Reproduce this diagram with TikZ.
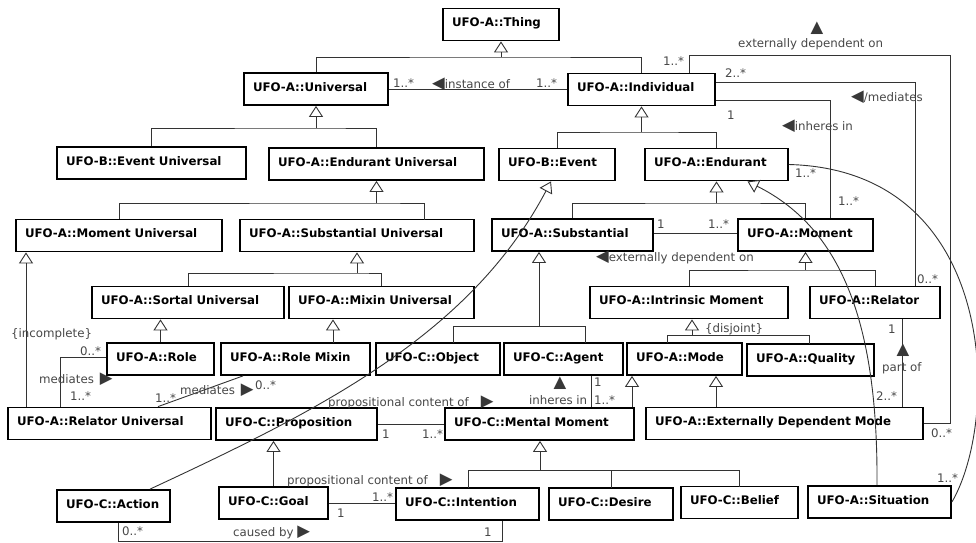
\documentclass[tikz,border=0pt]{standalone}
\usepackage{fontspec}
\setmainfont{DejaVu Sans}
\usepackage{tikz}
\usepackage{xcolor}
\usetikzlibrary{arrows.meta}
\exhyphenpenalty=10000
\newcommand{\umlsize}{\fontsize{11.8}{14}\selectfont}
\newcommand{\tri}[1]{{\fontsize{16.5}{14}\selectfont\color{black!78}#1}}

\begin{document}
\begin{tikzpicture}[x=1pt, y=-1pt,
  cls/.style={draw=black, line width=1.8pt, fill=white, font=\umlsize\bfseries, align=left, inner xsep=9pt, inner ysep=0pt, minimum height=32pt, text height=9pt, text depth=5pt},
  conn/.style={draw=black!80, line width=0.9pt},
  gen/.style={conn, -{Triangle[fill=white, length=11pt, width=14pt]}},
  lbl/.style={text=black!72, font=\umlsize, anchor=base west, inner sep=0pt}]
\useasboundingbox (0,0) rectangle (976,542);
\node[cls, text width=98pt] (thing) at (501,24.5) {UFO-A::Thing};
\node[cls, text width=126pt] (universal) at (316,89) {UFO-A::Universal};
\node[cls, text width=129pt] (individual) at (641.5,89.5) {UFO-A::Individual};
\node[cls, text width=171pt] (eventU) at (151.5,163) {UFO-B::Event Universal};
\node[cls, text width=197pt] (endurantU) at (376.5,164) {UFO-A::Endurant Universal};
\node[cls, text width=98pt] (event) at (557,164.5) {UFO-B::Event};
\node[cls, text width=125pt] (endurant) at (716.5,164.5) {UFO-A::Endurant};
\node[cls, text width=188pt] (momentU) at (119,235.5) {UFO-A::Moment Universal};
\node[cls, text width=216pt] (substU) at (357,235.5) {UFO-A::Substantial Universal};
\node[cls, text width=143pt] (substantial) at (572.5,235) {UFO-A::Substantial};
\node[cls, text width=117pt] (moment) at (805.5,235) {UFO-A::Moment};
\node[cls, text width=174pt] (sortalU) at (188,302.5) {UFO-A::Sortal Universal};
\node[cls, text width=167pt] (mixinU) at (381.5,302.5) {UFO-A::Mixin Universal};
\node[cls, text width=180pt] (intrinsic) at (689,302.5) {UFO-A::Intrinsic Moment};
\node[cls, text width=112pt] (relator) at (875,302.5) {UFO-A::Relator};
\node[cls, text width=89pt] (role) at (160.5,359) {UFO-A::Role};
\node[cls, text width=131pt] (roleMixin) at (295.5,359) {UFO-A::Role Mixin};
\node[cls, text width=106pt] (object) at (438,359) {UFO-C::Object};
\node[cls, text width=101pt] (agent) at (563.5,359) {UFO-C::Agent};
\node[cls, text width=97pt] (mode) at (684.5,359) {UFO-A::Mode};
\node[cls, text width=109pt] (quality) at (810.5,360) {UFO-A::Quality};
\node[cls, text width=185pt] (relatorU) at (109.5,423.5) {UFO-A::Relator Universal};
\node[cls, text width=143pt] (proposition) at (296.5,424) {UFO-C::Proposition};
\node[cls, text width=171pt] (mental) at (539.5,424) {UFO-C::Mental Moment};
\node[cls, text width=259pt] (edm) at (784.5,423.5) {UFO-A::Externally Dependent Mode};
\node[cls, text width=95pt] (action) at (113.5,506) {UFO-C::Action};
\node[cls, text width=91pt] (goal) at (273.5,503) {UFO-C::Goal};
\node[cls, text width=125pt] (intention) at (467.5,504) {UFO-C::Intention};
\node[cls, text width=106pt] (desire) at (611,504) {UFO-C::Desire};
\node[cls, text width=99pt] (belief) at (739.5,502.5) {UFO-C::Belief};
\node[cls, text width=125pt] (situation) at (879.5,502) {UFO-A::Situation};
\coordinate (j-thing) at (501,57);
\coordinate (j-univ) at (316,128);
\coordinate (j-indiv) at (641.5,132);
\coordinate (j-endU) at (376.5,203);
\coordinate (d-substU) at (424,220);
\coordinate (j-end) at (716.5,203);
\coordinate (j-substU) at (357,273);
\coordinate (j-mom) at (805.5,270);
\coordinate (d-rmix) at (333,343);
\coordinate (j-subst) at (539,326);
\coordinate (d-obj) at (453,343);
\coordinate (d-agent) at (585,343);
\coordinate (j-intr) at (692,335);
\coordinate (d-mode) at (667,343);
\coordinate (d-qual) at (809,344);
\coordinate (j-mental) at (540,470);
\coordinate (d-int) at (468,488);
\coordinate (d-des) at (611,488);
\coordinate (d-bel) at (739,487);
\coordinate (c-ext) at (950,55);
\coordinate (c-cause) at (300,541);
\draw[gen] (j-thing) -- (thing.south);
\draw[conn] (universal.north) |- (j-thing) -| (individual.north);
\draw[gen] (j-univ) -- (universal.south);
\draw[conn] (eventU.north) |- (j-univ) -| (endurantU.north);
\draw[gen] (j-indiv) -- (individual.south);
\draw[conn] (event.north) |- (j-indiv) -| (endurant.north);
\draw[gen] (j-endU) -- (endurantU.south);
\draw[conn] (momentU.north) |- (j-endU) -| (d-substU);
\draw[gen] (j-end) -- (endurant.south);
\draw[conn] (substantial.north) |- (j-end) -| (moment.north);
\draw[gen] (j-substU) -- (substU.south);
\draw[conn] (sortalU.north) |- (j-substU) -| (mixinU.north);
\draw[gen] (j-mom) -- (moment.south);
\draw[conn] (intrinsic.north) |- (j-mom) -| (relator.north);
\draw[gen] (role.north) -- (role.north |- sortalU.south);
\draw[gen] (d-rmix) -- (d-rmix |- mixinU.south);
\draw[gen] (j-subst) -- (j-subst |- substantial.south);
\draw[conn] (d-obj) |- (j-subst) -| (d-agent);
\draw[gen] (j-intr) -- (j-intr |- intrinsic.south);
\draw[conn] (d-mode) |- (j-intr) -| (d-qual);
\draw[gen] ([xshift=-68.5pt]edm.north) -- ([xshift=-68.5pt]edm.north |- mode.south);
\draw[gen] ([xshift=92.5pt]mental.north) -- ([xshift=92.5pt]mental.north |- mode.south);
\draw[gen] ([xshift=-83.5pt]relatorU.north) -- ([xshift=-83.5pt]relatorU.north |- momentU.south);
\draw[gen] (goal.north) -- (goal.north |- proposition.south);
\draw[gen] (j-mental) -- (j-mental |- mental.south);
\draw[conn] (d-int) |- (j-mental) -| (d-bel);
\draw[conn] (d-des) -- (d-des |- j-mental);
\draw[gen] ([xshift=36.5pt]action.north) .. controls (320,410) and (470,335) .. ([xshift=-6pt]event.south);
\draw[gen] ([xshift=-2.5pt]situation.north) .. controls (878,330) and (845,230) .. ([xshift=31pt]endurant.south);
\draw[conn] (endurant.east) .. controls (1000,170) and (1000,420) .. (situation.east);
\draw[conn] (universal.east) -- (universal.east -| individual.west);
\draw[conn] ([yshift=-11pt]individual.east) -| ([xshift=24.5pt]moment.north);
\draw[conn] ([yshift=7.5pt]individual.east) -| ([xshift=40pt]relator.north);
\draw[conn] ([xshift=47.5pt]individual.north) |- (c-ext) |- (edm.east);
\draw[conn] ([yshift=2pt]substantial.east) -- ([yshift=2pt]substantial.east -| moment.west);
\draw[conn] ([xshift=27pt]relator.south) -- ([xshift=27pt]relator.south |- edm.north);
\draw[conn] ([yshift=2pt]role.west) -| ([xshift=-49.5pt]relatorU.north);
\draw[conn] ([xshift=-52.5pt]roleMixin.south) -- ([xshift=48.5pt]relatorU.north);
\draw[conn] (proposition.east) -- (proposition.east -| mental.west);
\draw[conn] ([xshift=27.5pt]agent.south) -- ([xshift=27.5pt]agent.south |- mental.north);
\draw[conn] (goal.east) -- (goal.east -| intention.west);
\draw[conn] ([xshift=4.5pt]action.south) |- (c-cause) -| ([xshift=34.5pt]intention.south);
\node[lbl] (m-univ) at (393,87) {1..*};
\node[lbl] (l-inst) at (432,88) {\tri{◀}instance of};
\node[lbl] (m-indiv) at (536,87) {1..*};
\node[lbl] (m-ext1) at (663,65) {1..*};
\node[lbl] (m-med1) at (725,77) {2..*};
\node[lbl, anchor=center] (t-ext) at (817,28) {\tri{▲}};
\node[lbl] (l-ext) at (738,47) {externally dependent on};
\node[lbl] (l-med) at (851,101) {\tri{◀}/mediates};
\node[lbl] (m-inh1) at (727,119) {1};
\node[lbl] (l-inh) at (782,130) {\tri{◀}inheres in};
\node[lbl] (m-end) at (795,177) {1..*};
\node[lbl] (m-inh2) at (838,205) {1..*};
\node[lbl] (m-sub) at (657,228) {1};
\node[lbl] (m-mom) at (708,228) {1..*};
\node[lbl] (l-ext2) at (596,261) {\tri{◀}externally dependent on};
\node[lbl] (m-med2) at (917,283) {0..*};
\node[lbl] (l-incomplete) at (11,337) {\{incomplete\}};
\node[lbl] (l-disjoint) at (705,332) {\{disjoint\}};
\node[lbl] (m-rel) at (888,333) {1};
\node[lbl, anchor=center] (t-part) at (903,350) {\tri{▲}};
\node[lbl] (l-part) at (882,371) {part of};
\node[lbl] (m-part) at (876,400) {2..*};
\node[lbl] (m-ext2) at (931,437) {0..*};
\node[lbl] (m-sit) at (937,482) {1..*};
\node[lbl] (m-role) at (80,355) {0..*};
\node[lbl] (l-med-role) at (39,383) {mediates\hspace{6pt}\tri{▶}};
\node[lbl] (m-relU1) at (70,400) {1..*};
\node[lbl] (m-relU2) at (155,402) {1..*};
\node[lbl] (l-med-rmix) at (180,394) {mediates\hspace{6pt}\tri{▶}};
\node[lbl] (m-rmix) at (255,389) {0..*};
\node[lbl] (l-prop1) at (328,406) {propositional content of\hspace{12pt}\tri{▶}};
\node[lbl] (m-prop) at (382,438) {1};
\node[lbl] (m-ment) at (422,438) {1..*};
\node[lbl, anchor=center] (t-inh) at (560,383) {\tri{▲}};
\node[lbl] (l-inh2) at (529,404) {inheres in};
\node[lbl] (m-agent) at (594,386) {1};
\node[lbl] (m-ment2) at (594,404) {1..*};
\node[lbl] (l-prop2) at (287,484) {propositional content of\hspace{12pt}\tri{▶}};
\node[lbl] (m-goal) at (337,517) {1};
\node[lbl] (m-int) at (372,501) {1..*};
\node[lbl] (m-act) at (122,535) {0..*};
\node[lbl] (l-cause) at (233,536) {caused by \tri{▶}};
\node[lbl] (m-int2) at (484,536) {1};
\end{tikzpicture}
\end{document}
